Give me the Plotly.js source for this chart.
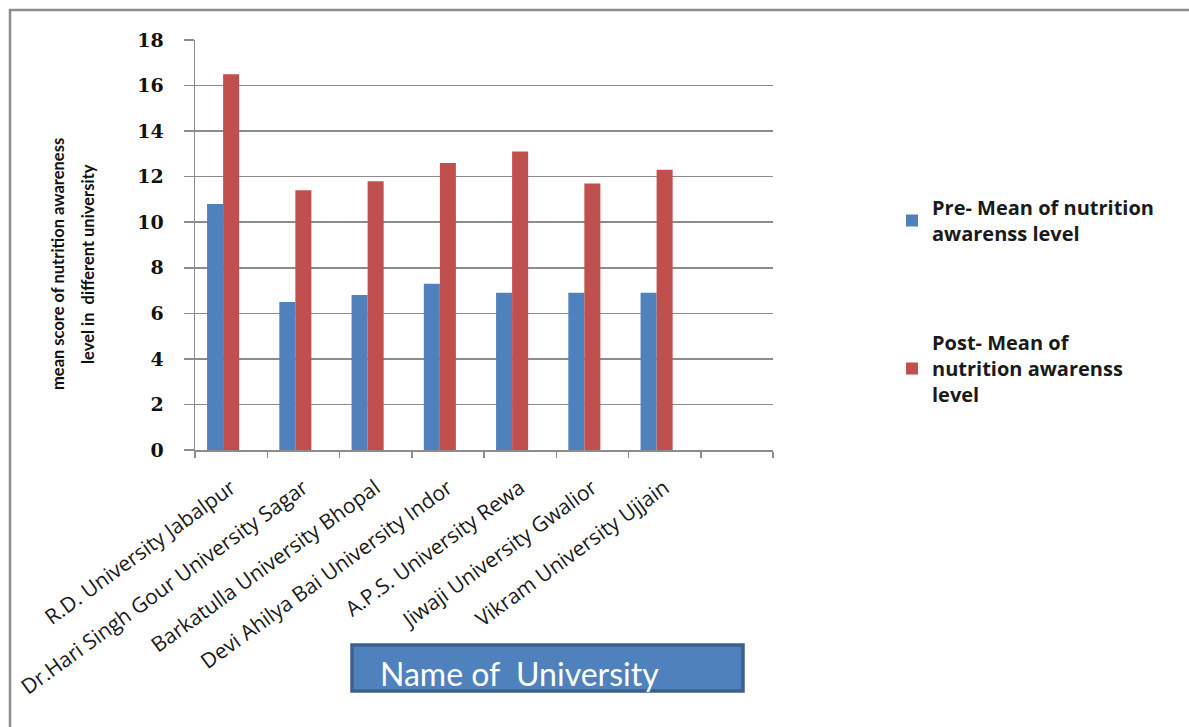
<!DOCTYPE html>
<html>
<head>
<meta charset="utf-8">
<script src="https://cdn.plot.ly/plotly-3.0.1.min.js"></script>
<style>html,body{margin:0;padding:0;background:#fff;}#chart{width:1189px;height:727px;}</style>
</head>
<body>
<div id="chart"></div>
<script>
var universities = [
  "R.D. University Jabalpur",
  "Dr.Hari Singh Gour University Sagar",
  "Barkatulla University Bhopal",
  "Devi Ahilya Bai University Indor",
  "A.P.S. University Rewa",
  "Jiwaji University Gwalior",
  "Vikram University Ujjain",
  " "
];
var preMean  = [10.8, 6.5, 6.8, 7.3, 6.9, 6.9, 6.9, null];
var postMean = [16.5, 11.4, 11.8, 12.6, 13.1, 11.7, 12.3, null];
var preName  = "Pre- Mean of nutrition<br>awarenss level";
var postName = "Post- Mean of<br>nutrition awarenss<br>level";
var yTitleLine1 = "mean score of nutrition awareness";
var yTitleLine2 = "level in  different university";
var xTitle   = "Name of  University";

var L = 195, R = 773, T = 40, B = 450, W = 1189, H = 727;
function xp(px){ return (px - L) / (R - L); }
function yp(py){ return (B - py) / (B - T); }

var traces = [
  {type:"bar", x:universities, y:preMean, name:preName, legendgroup:"pre",
   marker:{color:"#4F81BD"}, width:0.222, offset:-0.333, hoverinfo:"y"},
  {type:"bar", x:universities, y:postMean, name:postName, legendgroup:"post",
   marker:{color:"#C0504D"}, width:0.222, offset:-0.111, hoverinfo:"y"}
];

var titleFont = {family:"Lato, 'Open Sans', sans-serif", size:16.5, color:"#111", weight:"bold"};

var layout = {
  width:W, height:H,
  margin:{l:L, r:W-R, t:T, b:H-B, pad:0},
  paper_bgcolor:"#ffffff", plot_bgcolor:"#ffffff",
  showlegend:true,
  legend:{x:xp(892), xanchor:"left", y:yp(188), yanchor:"top",
          traceorder:"grouped", tracegroupgap:80,
          font:{family:"'Open Sans', Lato, sans-serif", size:20, color:"#1a1a1a", weight:"bold"},
          bgcolor:"rgba(0,0,0,0)"},
  xaxis:{type:"category", categoryorder:"array", categoryarray:universities,
         range:[-0.5, 7.5], showgrid:false, showline:true, linecolor:"#8c8c8c", linewidth:1.5,
         ticks:"outside", tickson:"boundaries", ticklen:6, tickcolor:"#8c8c8c", tickwidth:1.5,
         ticklabelstandoff:16,
         tickangle:-36, tickfont:{family:"'Open Sans', Lato, sans-serif", size:21, color:"#1a1a1a"},
         zeroline:false, fixedrange:true},
  yaxis:{range:[0,18], dtick:2, showgrid:true, gridcolor:"#8c8c8c", gridwidth:1.5,
         showline:true, linecolor:"#8c8c8c", linewidth:1.5,
         ticks:"outside", ticklen:10, tickcolor:"#8c8c8c", tickwidth:1.5,
         ticklabelstandoff:16,
         tickfont:{family:"'DejaVu Serif', serif", size:19, color:"#111", weight:"bold"},
         zeroline:false, fixedrange:true},
  shapes:[
    {type:"rect", xref:"paper", yref:"paper", x0:xp(10), x1:xp(1210), y0:yp(745), y1:yp(10),
     line:{color:"#8c8c8c", width:2.5}, fillcolor:"rgba(0,0,0,0)", layer:"below"},
    {type:"rect", xref:"paper", yref:"paper", x0:xp(352), x1:xp(743), y0:yp(691), y1:yp(645),
     line:{color:"#3B6090", width:3.5}, fillcolor:"#4F81BD", layer:"above"}
  ],
  annotations:[
    {xref:"paper", yref:"paper", x:xp(58), y:yp(264), xanchor:"center", yanchor:"middle",
     text:yTitleLine1, textangle:-90, showarrow:false, font:titleFont},
    {xref:"paper", yref:"paper", x:xp(88), y:yp(264), xanchor:"center", yanchor:"middle",
     text:yTitleLine2, textangle:-90, showarrow:false, font:titleFont},
    {xref:"paper", yref:"paper", x:xp(378), y:yp(673), xanchor:"left", yanchor:"middle",
     text:xTitle, showarrow:false,
     font:{family:"Lato, 'Open Sans', sans-serif", size:32, color:"#ffffff"}}
  ]
};

Plotly.newPlot("chart", traces, layout, {displayModeBar:false, staticPlot:true});
</script>
</body>
</html>
